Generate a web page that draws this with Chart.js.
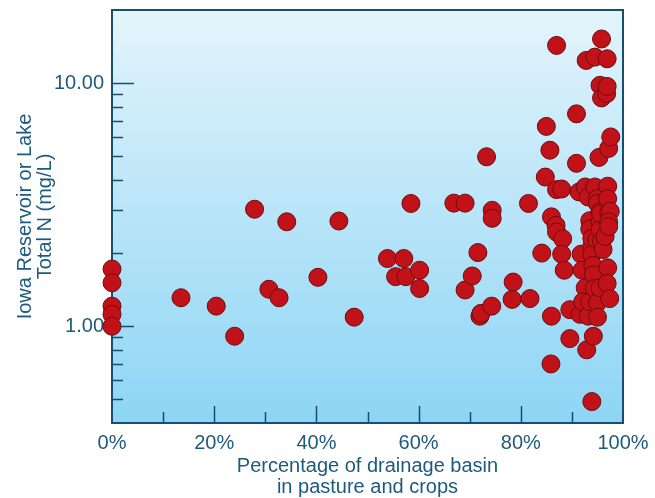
<!DOCTYPE html>
<html>
<head>
<meta charset="utf-8">
<script src="https://cdn.jsdelivr.net/npm/chart.js@4/dist/chart.umd.min.js"></script>
<style>
  html, body { margin: 0; padding: 0; background: #fff; }
  #wrap { width: 655px; height: 498px; }
</style>
</head>
<body>
<div id="wrap"><canvas id="nitrogenChart"></canvas></div>
<script>
// percent of drainage basin in pasture and crops
const pctCropland = [
  0, 0, 0, 0, 0,
  13.5, 20.4, 24.0, 27.9, 30.7, 32.7, 34.2, 40.3, 44.4, 47.4,
  53.9, 57.1, 55.5, 57.5, 60.2, 60.2, 58.5,
  66.9, 69.1, 69.1, 70.5, 71.6, 72.0, 72.2, 73.3, 74.3, 74.4, 74.4,
  78.5, 78.3, 81.8, 81.5,
  84.1, 84.8, 85.0, 85.7, 85.9, 86.0, 86.0, 86.9, 87.0, 88.2, 87.0, 87.0, 88.0, 88.0, 88.5, 89.6, 89.6,
  90.9, 90.9, 91.4, 91.8, 92.0, 91.6, 92.6, 92.6, 92.1, 92.8, 92.9, 93.2, 93.2, 93.5, 93.5, 93.5,
  93.9, 93.9, 93.9, 93.9, 94.1, 94.2, 94.2, 94.4, 94.5, 94.5, 94.9,
  95.0, 95.0, 95.0, 95.0, 95.3, 95.5, 95.5, 95.5, 95.5, 95.5, 95.6, 95.8, 95.8, 95.8, 96.1, 96.5,
  96.8, 96.9, 96.9, 97.0, 97.0, 97.2, 97.6, 97.2, 97.5, 97.0, 96.9, 97.4, 97.2, 97.2
];
// total nitrogen, mg/L
const totalN = [
  1.72, 1.51, 1.21, 1.12, 1.00,
  1.31, 1.21, 0.91, 3.03, 1.42, 1.31, 2.69, 1.59, 2.71, 1.09,
  1.90, 1.90, 1.60, 1.60, 1.70, 1.43, 3.20,
  3.21, 3.21, 1.41, 1.61, 2.01, 1.10, 1.13, 4.98, 1.21, 3.00, 2.78,
  1.52, 1.29, 1.30, 3.20,
  2.00, 4.11, 6.64, 5.30, 0.70, 1.10, 2.82, 2.60, 2.44, 2.29, 14.3, 3.65, 3.67, 1.98, 1.70, 1.17, 0.89,
  7.48, 4.68, 3.57, 1.98, 1.70, 1.12, 3.74, 1.44, 1.26, 12.4, 0.80, 3.40, 1.10, 2.72, 1.26, 2.51,
  2.13, 2.30, 1.97, 0.49, 1.78, 1.63, 0.91, 1.43, 12.8, 3.74, 2.27,
  3.35, 3.20, 1.25, 1.09, 4.95, 9.80, 2.96, 2.69, 1.44, 2.49, 2.91, 15.2, 8.70, 2.23, 2.07, 2.34,
  9.05, 9.70, 12.6, 3.77, 3.35, 5.39, 6.01, 2.94, 2.97, 1.74, 1.50, 1.30, 2.69, 2.57
];

const xMajorTicks = [20, 40, 60, 80];
const xMinorTicks = [10, 30, 50, 70, 90];
const yLabelTicks = [1, 10];
const yMinorTicks = [0.5, 0.6, 0.7, 0.8, 0.9, 2, 3, 4, 5, 6, 7, 8, 9];

const inkColor = "#1d5a7c";
const axisColor = "#17506e";

const points = pctCropland.map((x, i) => ({ x: x, y: totalN[i] }));

// gradient behind the plot, border and inward ticks
const plotDecor = {
  id: "plotDecor",
  beforeDatasetsDraw(chart) {
    const { ctx, chartArea: a, scales } = chart;
    ctx.save();
    let g = ctx.createLinearGradient(0, a.top, 0, a.bottom);
    g.addColorStop(0, "#e3f4fb");
    g.addColorStop(1, "#8dd5f5");
    ctx.fillStyle = g;
    ctx.fillRect(a.left, a.top, a.right - a.left, a.bottom - a.top);

    ctx.strokeStyle = axisColor;
    ctx.lineWidth = 1.5;
    ctx.beginPath();
    xMajorTicks.forEach(v => {
      let px = Math.round(scales.x.getPixelForValue(v)) + 0.5;
      ctx.moveTo(px, a.bottom); ctx.lineTo(px, a.bottom - 17);
    });
    xMinorTicks.forEach(v => {
      let px = Math.round(scales.x.getPixelForValue(v)) + 0.5;
      ctx.moveTo(px, a.bottom); ctx.lineTo(px, a.bottom - 11);
    });
    yLabelTicks.forEach(v => {
      let py = Math.round(scales.y.getPixelForValue(v)) + 0.5;
      ctx.moveTo(a.left, py); ctx.lineTo(a.left + 22, py);
    });
    yMinorTicks.forEach(v => {
      let py = Math.round(scales.y.getPixelForValue(v)) + 0.5;
      ctx.moveTo(a.left, py); ctx.lineTo(a.left + 11, py);
    });
    ctx.stroke();

    ctx.lineWidth = 2;
    ctx.strokeRect(a.left, a.top, a.right - a.left, a.bottom - a.top);
    ctx.restore();
  }
};

new Chart(document.getElementById("nitrogenChart"), {
  type: "scatter",
  data: {
    datasets: [{
      data: points,
      backgroundColor: "#c1121a",
      borderColor: "#6f0b0e",
      borderWidth: 1,
      pointRadius: 9,
      pointHoverRadius: 9
    }]
  },
  options: {
    responsive: true,
    maintainAspectRatio: false,
    animation: false,
    clip: false,
    layout: { padding: { top: 6, right: 32, left: 0, bottom: 0 } },
    plugins: { legend: { display: false }, tooltip: { enabled: false } },
    scales: {
      x: {
        type: "linear",
        min: 0,
        max: 100,
        grid: { display: false, drawTicks: false },
        border: { display: false },
        ticks: {
          stepSize: 20,
          padding: 8,
          color: inkColor,
          font: { family: "Liberation Sans, Arial, sans-serif", size: 20 },
          callback: v => v + "%"
        },
        title: {
          display: true,
          text: ["Percentage of drainage basin", "in pasture and crops"],
          color: inkColor,
          font: { family: "Liberation Sans, Arial, sans-serif", size: 20, lineHeight: 1.05 },
          padding: { top: 4, bottom: 0 }
        },
        afterFit: s => { s.height = 75; s.paddingLeft = 0; s.paddingRight = 0; }
      },
      y: {
        type: "logarithmic",
        min: 0.4,
        max: 20,
        grid: { display: false, drawTicks: false },
        border: { display: false },
        ticks: {
          autoSkip: false,
          padding: 8,
          color: inkColor,
          font: { family: "Liberation Sans, Arial, sans-serif", size: 20 },
          callback: v => yLabelTicks.includes(v) ? v.toFixed(2) : ""
        },
        title: {
          display: true,
          text: ["Iowa Reservoir or Lake", "Total N (mg/L)"],
          color: inkColor,
          font: { family: "Liberation Sans, Arial, sans-serif", size: 20, lineHeight: 1.0 },
          padding: { top: 15, bottom: 0 }
        },
        afterFit: s => { s.width = 112; s.paddingTop = 0; s.paddingBottom = 0; }
      }
    }
  },
  plugins: [plotDecor]
});
</script>
</body>
</html>
